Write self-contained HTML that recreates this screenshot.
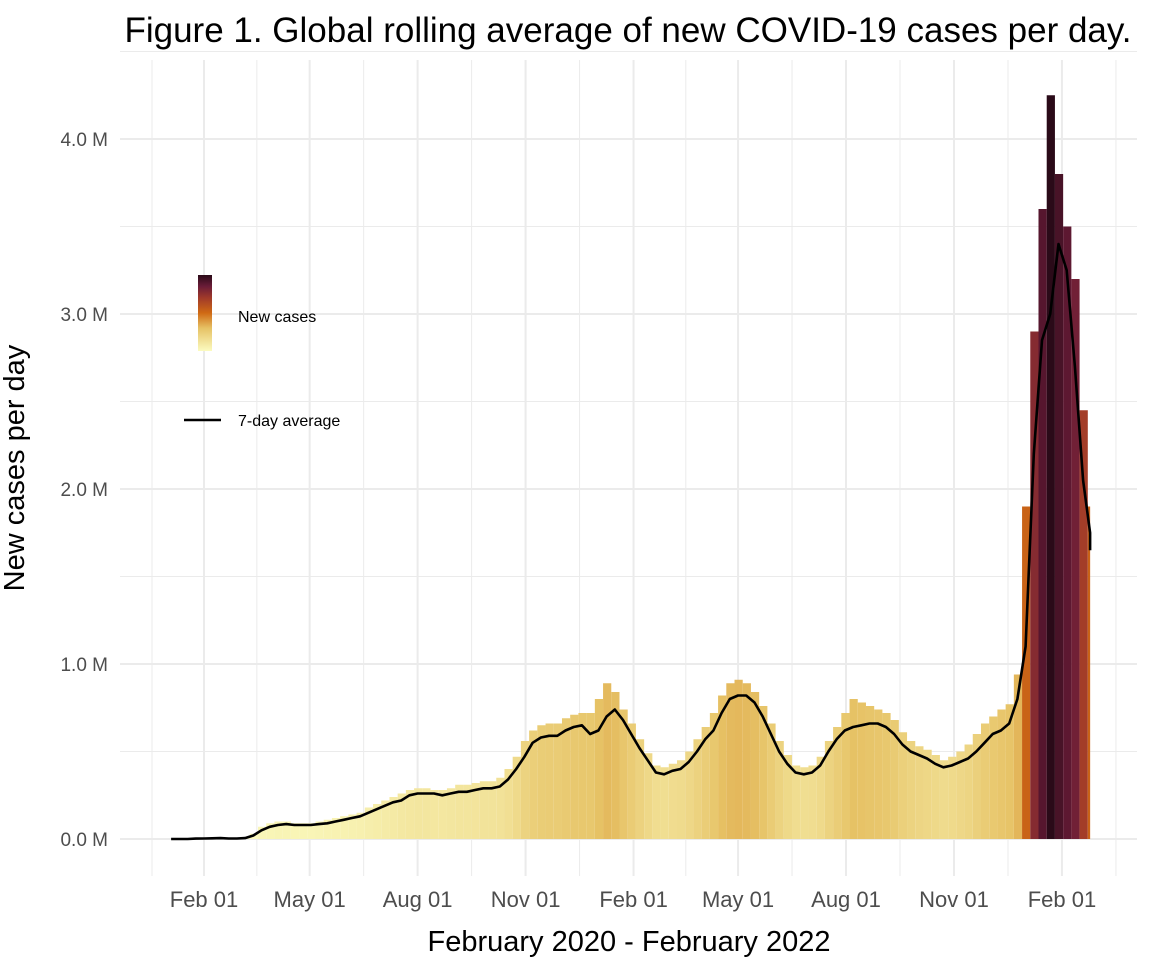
<!DOCTYPE html>
<html><head><meta charset="utf-8"><style>
body{margin:0;background:#fff;}
svg{display:block;font-family:"Liberation Sans",Arial,sans-serif;}
</style></head><body>
<svg id="chart" width="1152" height="960">
<defs><linearGradient id="lg" x1="0" y1="1" x2="0" y2="0">
<stop offset="0" stop-color="#fbfbc0"/><stop offset="0.3" stop-color="#e6c265"/><stop offset="0.5" stop-color="#d06a14"/><stop offset="0.7" stop-color="#a03a2a"/><stop offset="0.85" stop-color="#6a1c38"/><stop offset="1" stop-color="#2a0a18"/></linearGradient></defs>
<g id="grid"></g>
<g id="bars"></g>
<path id="avgline" fill="none" stroke="#000" stroke-width="2.6" stroke-linejoin="round"/>
<g id="axes"></g>
<text x="628" y="42" font-size="35" text-anchor="middle" fill="#000">Figure 1. Global rolling average of new COVID-19 cases per day.</text>
<text x="629" y="951" font-size="29" text-anchor="middle" fill="#000">February 2020 - February 2022</text>
<text transform="translate(24,468) rotate(-90)" font-size="29" text-anchor="middle" fill="#000">New cases per day</text>
<g>
<rect x="198" y="275" width="14" height="76" fill="url(#lg)"/>
<text x="238" y="322" font-size="16" fill="#000">New cases</text>
<line x1="184" y1="420" x2="221" y2="420" stroke="#000" stroke-width="2.6"/>
<text x="238" y="426" font-size="16" fill="#000">7-day average</text>
</g>
</svg>
<script>
const avgM=[0,0,0,0.002,0.003,0.004,0.005,0.003,0.003,0.005,0.02,0.05,0.07,0.08,0.085,0.08,0.08,0.08,0.085,0.09,0.10,0.11,0.12,0.13,0.15,0.17,0.19,0.21,0.22,0.25,0.26,0.26,0.26,0.25,0.26,0.27,0.27,0.28,0.29,0.29,0.30,0.34,0.40,0.47,0.55,0.58,0.59,0.59,0.62,0.64,0.65,0.60,0.62,0.70,0.74,0.68,0.60,0.52,0.45,0.38,0.37,0.39,0.40,0.44,0.50,0.57,0.62,0.72,0.80,0.82,0.82,0.78,0.70,0.60,0.50,0.43,0.38,0.37,0.38,0.42,0.50,0.57,0.62,0.64,0.65,0.66,0.66,0.64,0.60,0.54,0.50,0.48,0.46,0.43,0.41,0.42,0.44,0.46,0.50,0.55,0.60,0.62,0.66,0.80,1.1,2.2,2.85,3.0,3.40,3.25,2.7,2.05,1.75,1.65];
const barM=[0,0,0,0.003,0.004,0.006,0.006,0.004,0.004,0.008,0.03,0.07,0.09,0.10,0.10,0.09,0.09,0.09,0.10,0.11,0.12,0.13,0.14,0.15,0.18,0.20,0.22,0.24,0.26,0.28,0.29,0.29,0.28,0.28,0.29,0.31,0.31,0.32,0.33,0.33,0.35,0.40,0.47,0.56,0.62,0.65,0.66,0.66,0.69,0.71,0.72,0.72,0.80,0.89,0.84,0.74,0.66,0.57,0.49,0.42,0.41,0.43,0.45,0.50,0.57,0.64,0.72,0.82,0.89,0.91,0.89,0.84,0.76,0.66,0.56,0.48,0.42,0.41,0.42,0.47,0.56,0.64,0.72,0.80,0.78,0.76,0.74,0.72,0.68,0.61,0.56,0.53,0.51,0.48,0.45,0.47,0.50,0.54,0.60,0.66,0.70,0.74,0.77,0.94,1.9,2.9,3.6,4.25,3.8,3.5,3.2,2.45,1.9,1.8];
const yTicks=[0,1,2,3,4];
const yTickLabels=["0.0 M","1.0 M","2.0 M","3.0 M","4.0 M"];
const xTickDays=[31,121,213,305,397,486,578,670,762];
const xTickLabels=["Feb 01","May 01","Aug 01","Nov 01","Feb 01","May 01","Aug 01","Nov 01","Feb 01"];
const X=d=>204+(d-31)*1.1737;
const Y=v=>839-v*175;
const ns="http://www.w3.org/2000/svg";
const mk=(t,a,p)=>{const e=document.createElementNS(ns,t);for(const k in a)e.setAttribute(k,a[k]);p.appendChild(e);return e;};
const grid=document.getElementById('grid'),axes=document.getElementById('axes'),bars=document.getElementById('bars');
for(let v=0;v<=4.5;v+=0.5){const l=mk('line',{x1:120,x2:1137,y1:Y(v),y2:Y(v),stroke:'#ebebeb','stroke-width':(v%1===0)?2:1},grid);

}
const minors=[];for(let i=0;i<xTickDays.length;i++){minors.push(X(xTickDays[i]));if(i<xTickDays.length-1)minors.push((X(xTickDays[i])+X(xTickDays[i+1]))/2);}
minors.push(X(762)+54);minors.unshift(X(31)-52);
minors.forEach((x)=>{const maj=xTickDays.some(d=>Math.abs(X(d)-x)<0.5);
const l=mk('line',{x1:x,x2:x,y1:60,y2:876,stroke:'#ebebeb','stroke-width':maj?2:1},grid);

});
const stops=[[0,[251,251,192]],[0.8,[230,194,101]],[1.8,[208,106,20]],[2.5,[160,58,42]],[3.3,[106,28,56]],[4.25,[42,10,24]]];
function col(v){for(let i=1;i<stops.length;i++){if(v<=stops[i][0]){const a=stops[i-1],b=stops[i],t=(v-a[0])/(b[0]-a[0]);return 'rgb('+a[1].map((c,j)=>Math.round(c+(b[1][j]-c)*t)).join(',')+')';}}return 'rgb(42,10,24)';}
barM.forEach((v,w)=>{const x0=X(w*7),x1=Math.min(X(w*7+7),X(786));if(x1<=x0)return;
const r=mk('rect',{x:x0,y:Y(v),width:x1-x0,height:Y(0)-Y(v),fill:col(v)},bars);

});
let d='';avgM.forEach((v,w)=>{d+=(w?'L':'M')+X(Math.min(w*7+3,786)).toFixed(1)+','+Y(v).toFixed(1);});
document.getElementById('avgline').setAttribute('d',d);
yTicks.forEach((v,i)=>{const t=mk('text',{x:108,y:Y(v)+7,'font-size':19,'text-anchor':'end',fill:'#4d4d4d'},axes);t.textContent=yTickLabels[i];

});
xTickDays.forEach((dd,i)=>{const t=mk('text',{x:X(dd),y:907,'font-size':22,'text-anchor':'middle',fill:'#4d4d4d'},axes);t.textContent=xTickLabels[i];

});
</script>
</body></html>
